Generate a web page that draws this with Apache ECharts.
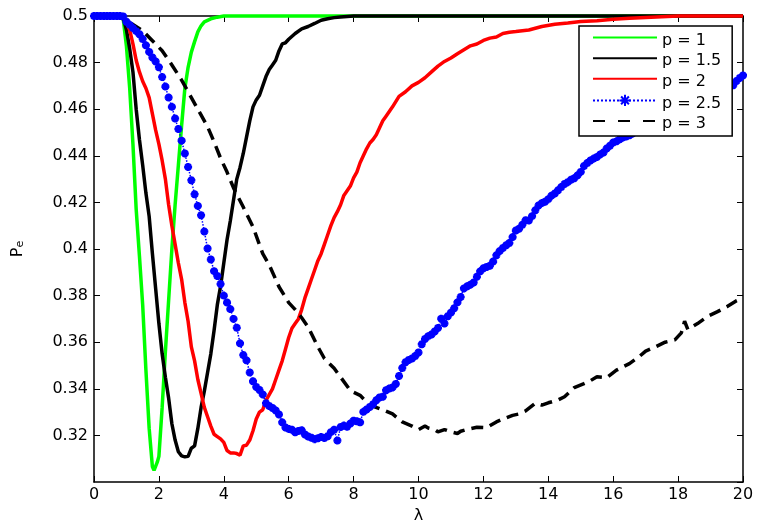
<!DOCTYPE html>
<html>
<head>
<meta charset="utf-8">
<title>Pe vs lambda</title>
<script src="https://cdn.jsdelivr.net/npm/echarts@6/dist/echarts.min.js"></script>
<style>
  html, body { margin: 0; padding: 0; background: #fff; }
  #chart { width: 757px; height: 523px; }
</style>
</head>
<body>
<div id="chart"></div>
<script>
// Error probability P_e versus lambda for several exponents p.

const seriesNames = ['p = 1', 'p = 1.5', 'p = 2', 'p = 2.5', 'p = 3'];

const xTicks = [0, 2, 4, 6, 8, 10, 12, 14, 16, 18, 20];
const yTicks = [0.3, 0.32, 0.34, 0.36, 0.38, 0.4, 0.42, 0.44, 0.46, 0.48, 0.5];

// p = 1
const lambdaP1 = [0, 0.8, 0.9, 1.0, 1.1, 1.2, 1.3, 1.4, 1.5, 1.6, 1.7, 1.8, 1.85, 1.95, 2.0, 2.1, 2.2, 2.3, 2.4, 2.5, 2.6, 2.7, 2.8, 2.9, 3.0, 3.1, 3.2, 3.3, 3.4, 3.6, 3.8, 4.0, 20];
const peP1 = [0.5, 0.5, 0.4988, 0.487, 0.469, 0.445, 0.417, 0.397, 0.376, 0.348, 0.323, 0.3065, 0.305, 0.3085, 0.311, 0.332, 0.356, 0.378, 0.400, 0.419, 0.436, 0.453, 0.469, 0.478, 0.4845, 0.489, 0.4932, 0.4958, 0.4975, 0.4988, 0.4995, 0.5, 0.5];

// p = 1.5
const lambdaP15 = [0, 0.8, 0.9, 1.0, 1.1, 1.2, 1.3, 1.4, 1.5, 1.6, 1.7, 1.8, 1.9, 2.0, 2.1, 2.2, 2.3, 2.4, 2.5, 2.6, 2.7, 2.8, 2.9, 3.0, 3.1, 3.2, 3.3, 3.4, 3.5, 3.6, 3.7, 3.8, 3.9, 4.0, 4.1, 4.2, 4.3, 4.4, 4.5, 4.6, 4.7, 4.8, 4.9, 5.0, 5.1, 5.2, 5.3, 5.4, 5.5, 5.6, 5.7, 5.8, 5.9, 6.0, 6.2, 6.4, 6.6, 6.8, 7.0, 7.2, 7.4, 7.6, 7.8, 8.0, 20];
const peP15 = [0.5, 0.5, 0.4993, 0.494, 0.486, 0.476, 0.460, 0.447, 0.436, 0.424, 0.414, 0.398, 0.383, 0.368, 0.355, 0.345, 0.336, 0.325, 0.318, 0.313, 0.3112, 0.3108, 0.3110, 0.3145, 0.3155, 0.323, 0.332, 0.339, 0.347, 0.355, 0.365, 0.376, 0.384, 0.394, 0.404, 0.412, 0.421, 0.430, 0.435, 0.441, 0.448, 0.455, 0.461, 0.464, 0.466, 0.470, 0.474, 0.477, 0.479, 0.481, 0.485, 0.488, 0.4885, 0.490, 0.4925, 0.4945, 0.4955, 0.4968, 0.4982, 0.4988, 0.4993, 0.4996, 0.4998, 0.5, 0.5];

// p = 2
const lambdaP2 = [0, 0.8, 0.9, 1.0, 1.1, 1.2, 1.3, 1.4, 1.5, 1.6, 1.7, 1.8, 1.9, 2.0, 2.1, 2.2, 2.3, 2.4, 2.5, 2.6, 2.7, 2.8, 2.9, 3.0, 3.1, 3.2, 3.3, 3.4, 3.5, 3.6, 3.7, 3.8, 3.9, 4.0, 4.1, 4.2, 4.3, 4.4, 4.5, 4.6, 4.7, 4.8, 4.9, 5.0, 5.1, 5.2, 5.3, 5.4, 5.5, 5.6, 5.7, 5.8, 5.9, 6.0, 6.1, 6.2, 6.3, 6.4, 6.5, 6.6, 6.7, 6.8, 6.9, 7.0, 7.1, 7.2, 7.3, 7.4, 7.5, 7.6, 7.7, 7.8, 7.9, 8.0, 8.1, 8.2, 8.3, 8.4, 8.5, 8.6, 8.7, 8.8, 8.9, 9.0, 9.2, 9.4, 9.6, 9.8, 10.0, 10.2, 10.4, 10.6, 10.8, 11.0, 11.2, 11.4, 11.6, 11.8, 12.0, 12.2, 12.4, 12.6, 12.8, 13.0, 13.4, 13.8, 14.2, 14.6, 15.0, 15.5, 16.0, 16.5, 17.0, 17.5, 18.0, 20];
const peP2 = [0.5, 0.5, 0.4995, 0.4975, 0.494, 0.488, 0.481, 0.476, 0.472, 0.469, 0.465, 0.458, 0.451, 0.445, 0.438, 0.430, 0.419, 0.410, 0.402, 0.394, 0.387, 0.377, 0.369, 0.358, 0.352, 0.344, 0.338, 0.332, 0.328, 0.324, 0.3205, 0.3195, 0.3185, 0.317, 0.3135, 0.3125, 0.3125, 0.3122, 0.3115, 0.3155, 0.3158, 0.318, 0.322, 0.327, 0.330, 0.331, 0.335, 0.3375, 0.340, 0.344, 0.348, 0.352, 0.357, 0.362, 0.366, 0.368, 0.370, 0.374, 0.379, 0.383, 0.387, 0.391, 0.395, 0.398, 0.402, 0.406, 0.410, 0.4135, 0.416, 0.419, 0.423, 0.425, 0.427, 0.4305, 0.433, 0.437, 0.440, 0.443, 0.4455, 0.447, 0.449, 0.452, 0.455, 0.457, 0.461, 0.4655, 0.4675, 0.470, 0.4715, 0.4735, 0.476, 0.4785, 0.4805, 0.482, 0.4838, 0.4855, 0.4872, 0.488, 0.4895, 0.4905, 0.491, 0.4925, 0.493, 0.4933, 0.494, 0.4955, 0.4965, 0.497, 0.4976, 0.498, 0.4986, 0.499, 0.4994, 0.4997, 0.5, 0.5];

// p = 2.5, sampled every 0.1 from 0 to 20
const peP25 = [
  0.5, 0.5, 0.5, 0.5, 0.5, 0.5, 0.5, 0.5, 0.5, 0.4998,
  0.4975, 0.4962, 0.4948, 0.4935, 0.4922, 0.4901, 0.4874, 0.4846, 0.4822, 0.4805,
  0.4780, 0.4738, 0.4697, 0.4650, 0.4610, 0.4560, 0.4515, 0.4465, 0.4410, 0.4352,
  0.4295, 0.4235, 0.4185, 0.4145, 0.4075, 0.4002, 0.3955, 0.3905, 0.3884, 0.3850,
  0.3800, 0.3770, 0.3742, 0.3700, 0.3662, 0.3595, 0.3545, 0.3522, 0.3470, 0.3432,
  0.3408, 0.3395, 0.3376, 0.3338, 0.3326, 0.3318, 0.3307, 0.3290, 0.3256, 0.3234,
  0.3228, 0.3224, 0.3213, 0.3219, 0.3222, 0.3204, 0.3195, 0.3190, 0.3184, 0.3188,
  0.3193, 0.3189, 0.3196, 0.3214, 0.3224, 0.3178, 0.3236, 0.3242, 0.3237, 0.3251,
  0.3263, 0.3261, 0.3256, 0.3301, 0.3311, 0.3322, 0.3334, 0.3351, 0.3363, 0.3366,
  0.3394, 0.3401, 0.3406, 0.3421, 0.3455, 0.3489, 0.3514, 0.3524, 0.3530, 0.3541,
  0.3556, 0.3591, 0.3614, 0.3626, 0.3633, 0.3646, 0.3661, 0.3701, 0.3680, 0.3711,
  0.3727, 0.3746, 0.3771, 0.3794, 0.3831, 0.3840, 0.3847, 0.3856, 0.3881, 0.3904,
  0.3917, 0.3923, 0.3928, 0.3946, 0.3973, 0.3991, 0.4004, 0.4016, 0.4026, 0.4051,
  0.4079, 0.4087, 0.4104, 0.4123, 0.4122, 0.4141, 0.4166, 0.4187, 0.4197, 0.4203,
  0.4214, 0.4229, 0.4238, 0.4252, 0.4266, 0.4279, 0.4287, 0.4297, 0.4304, 0.4316,
  0.4331, 0.4356, 0.4369, 0.4380, 0.4388, 0.4395, 0.4406, 0.4414, 0.4431, 0.4443,
  0.4457, 0.4462, 0.4471, 0.4479, 0.4483, 0.4488, 0.4496, 0.4504, 0.4512, 0.4521,
  0.4529, 0.4539, 0.4546, 0.4555, 0.4564, 0.4571, 0.4581, 0.4589, 0.4596, 0.4606,
  0.4614, 0.4621, 0.4629, 0.4638, 0.4644, 0.4653, 0.4659, 0.4666, 0.4671, 0.4679,
  0.4682, 0.4688, 0.4691, 0.4696, 0.4697, 0.4699, 0.4701, 0.4703, 0.4721, 0.4734,
  0.4745
];
const lambdaP25 = peP25.map((_, i) => i / 10);

// p = 3
const lambdaP3 = [0, 0.5, 0.8, 1.1, 1.5, 1.8, 2.1, 2.4, 2.7, 3.0, 3.2, 3.5, 3.7, 3.9, 4.1, 4.3, 4.6, 4.9, 5.2, 5.4, 5.7, 6.0, 6.2, 6.4, 6.6, 6.9, 7.1, 7.4, 7.6, 7.9, 8.2, 8.5, 8.9, 9.2, 9.5, 9.8, 10.0, 10.2, 10.3, 10.5, 10.6, 10.8, 11.0, 11.2, 11.3, 11.5, 11.8, 12.1, 12.4, 12.6, 12.9, 13.1, 13.3, 13.6, 13.8, 14.0, 14.3, 14.5, 14.8, 15.1, 15.3, 15.5, 15.8, 16.1, 16.5, 16.8, 17.0, 17.3, 17.6, 17.9, 18.1, 18.2, 18.3, 18.6, 18.9, 19.2, 19.5, 19.8, 20];
const peP3 = [0.5, 0.5, 0.4994, 0.4973, 0.4937, 0.4894, 0.4851, 0.4790, 0.4725, 0.4650, 0.4600, 0.4525, 0.4460, 0.4390, 0.4330, 0.4262, 0.4180, 0.4095, 0.3980, 0.3932, 0.3838, 0.3770, 0.3740, 0.3705, 0.3665, 0.3580, 0.3530, 0.3488, 0.3450, 0.3392, 0.3372, 0.3330, 0.3310, 0.3292, 0.3258, 0.3240, 0.3225, 0.3240, 0.3232, 0.3225, 0.3215, 0.3225, 0.3215, 0.3208, 0.3218, 0.3226, 0.3235, 0.3233, 0.3258, 0.3270, 0.3286, 0.3292, 0.3305, 0.3338, 0.3330, 0.3340, 0.3352, 0.3366, 0.3405, 0.3422, 0.3435, 0.3452, 0.3448, 0.3480, 0.3508, 0.3538, 0.3562, 0.3580, 0.3600, 0.3610, 0.3640, 0.3690, 0.3655, 0.3680, 0.3710, 0.3730, 0.3752, 0.3778, 0.3790];

const pairs = (xs, ys) => xs.map((x, i) => [x, ys[i]]);

const FONT = 'DejaVu Sans';
const asterisk = 'path://M5,0L5,10M0,5L10,5M1.5,1.5L8.5,8.5M1.5,8.5L8.5,1.5';
const noMarker = { color: 'rgba(0,0,0,0)', borderColor: 'rgba(0,0,0,0)', borderWidth: 0 };

const baseAxisX = {
  type: 'value', min: 0, max: 20, interval: 2,
  splitLine: { show: false },
  axisLine: { show: true, onZero: false, lineStyle: { color: '#000', width: 1.5 } },
  axisTick: { show: true, inside: true, length: 6, lineStyle: { color: '#000', width: 1 } }
};
const baseAxisY = {
  type: 'value', min: 0.3, max: 0.5, interval: 0.02,
  splitLine: { show: false },
  axisLine: { show: true, onZero: false, lineStyle: { color: '#000', width: 1.5 } },
  axisTick: { show: true, inside: true, length: 6, lineStyle: { color: '#000', width: 1 } }
};

const chart = echarts.init(document.getElementById('chart'), null, { renderer: 'canvas' });

chart.setOption({
  animation: false,
  backgroundColor: '#fff',
  textStyle: { fontFamily: FONT, color: '#000' },
  grid: { left: 94, right: 14, top: 16, bottom: 41, containLabel: false, outerBoundsMode: 'none' },
  xAxis: [
    Object.assign({}, baseAxisX, {
      position: 'bottom',
      name: 'λ', nameLocation: 'middle', nameGap: 23,
      nameTextStyle: { fontFamily: FONT, fontSize: 16, color: '#000' },
      axisLabel: {
        show: true, margin: 5, fontFamily: FONT, fontSize: 16, color: '#000',
        formatter: v => (xTicks.includes(v) ? String(v) : '')
      }
    }),
    Object.assign({}, baseAxisX, { position: 'top', axisLabel: { show: false } })
  ],
  yAxis: [
    Object.assign({}, baseAxisY, {
      position: 'left',
      name: '{a|P}{b|e}', nameLocation: 'middle', nameGap: 68, nameRotate: 90,
      nameTextStyle: {
        fontFamily: FONT, color: '#000',
        rich: {
          a: { fontFamily: FONT, fontSize: 16, color: '#000', verticalAlign: 'bottom', lineHeight: 22 },
          b: { fontFamily: FONT, fontSize: 11, color: '#000', verticalAlign: 'bottom', lineHeight: 14 }
        }
      },
      axisLabel: {
        show: true, margin: 6, fontFamily: FONT, fontSize: 16, color: '#000',
        showMinLabel: false,
        formatter: v => {
          const t = yTicks.find(k => Math.abs(k - v) < 1e-9);
          return t === undefined ? '' : String(Number(t.toFixed(2)));
        }
      }
    }),
    Object.assign({}, baseAxisY, { position: 'right', axisLabel: { show: false } })
  ],
  legend: {
    orient: 'vertical',
    left: 579, top: 26,
    padding: [6, 11, 4, 13],
    itemWidth: 64, itemHeight: 14, itemGap: 4,
    backgroundColor: '#fff',
    borderColor: '#000', borderWidth: 1.5, borderRadius: 0,
    selectedMode: false,
    formatter: name => '{t|' + name + '}',
    textStyle: {
      fontFamily: FONT, fontSize: 16, color: '#000',
      rich: { t: { fontFamily: FONT, fontSize: 16, color: '#000', lineHeight: 22, verticalAlign: 'bottom' } }
    },
    data: [
      { name: seriesNames[0], itemStyle: noMarker },
      { name: seriesNames[1], itemStyle: noMarker },
      { name: seriesNames[2], itemStyle: noMarker },
      { name: seriesNames[3] },
      { name: seriesNames[4], itemStyle: noMarker, lineStyle: { type: [12, 13] } }
    ]
  },
  series: [
    {
      name: seriesNames[0], type: 'line', clip: false, symbol: 'none',
      lineStyle: { color: '#00ff00', width: 3.5 }, itemStyle: { color: '#00ff00' },
      data: pairs(lambdaP1, peP1)
    },
    {
      name: seriesNames[1], type: 'line', clip: false, symbol: 'none',
      lineStyle: { color: '#000000', width: 3.5 }, itemStyle: { color: '#000000' },
      data: pairs(lambdaP15, peP15)
    },
    {
      name: seriesNames[2], type: 'line', clip: false, symbol: 'none',
      lineStyle: { color: '#ff0000', width: 3.5 }, itemStyle: { color: '#ff0000' },
      data: pairs(lambdaP2, peP2)
    },
    {
      name: seriesNames[3], type: 'line', clip: false,
      symbol: asterisk, symbolSize: 8, showSymbol: true, showAllSymbol: true,
      lineStyle: { color: '#0000ff', width: 1.5, type: 'dotted' },
      itemStyle: { color: '#0000ff', borderColor: '#0000ff', borderWidth: 2.6 },
      data: pairs(lambdaP25, peP25)
    },
    {
      name: seriesNames[4], type: 'line', clip: false, symbol: 'none',
      lineStyle: { color: '#000000', width: 3.5, type: [12, 7], cap: 'butt' },
      itemStyle: { color: '#000000' },
      data: pairs(lambdaP3, peP3)
    }
  ]
});
</script>
</body>
</html>
